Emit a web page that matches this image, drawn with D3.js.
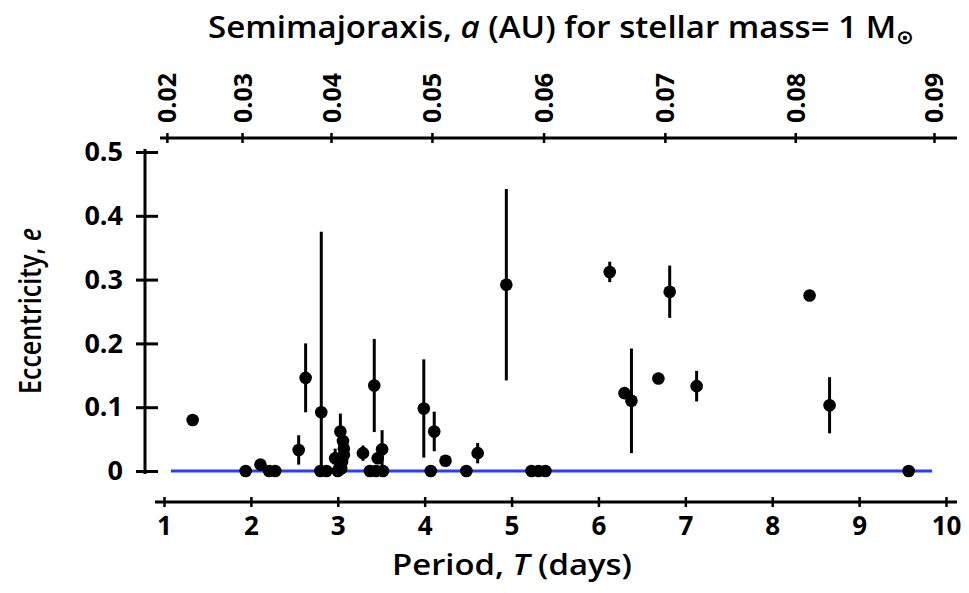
<!DOCTYPE html>
<html>
<head>
<meta charset="utf-8">
<script src="https://cdn.jsdelivr.net/npm/d3@7"></script>
<style>
  body { margin: 0; background: #fff; }
  svg text { font-family: "Open Sans", "DejaVu Sans", sans-serif; fill: #000; }
</style>
</head>
<body>
<div id="viz"></div>
<script>
// planets: period (days), eccentricity, error (+/-)
var periods = [1.33, 1.94, 2.11, 2.21, 2.28, 2.55, 2.63, 2.81, 2.80, 2.87,
    2.97, 3.00, 3.03, 3.06, 3.07, 3.07, 3.05, 3.04, 3.29, 3.42,
    3.37, 3.44, 3.52, 3.46, 3.51, 3.99, 4.11, 4.07, 4.24, 4.48,
    4.61, 4.94, 5.23, 5.31, 5.39, 6.13, 6.30, 6.38, 6.69, 6.82,
    7.13, 8.43, 8.66, 9.57];
var eccentricity = [0.080, 0, 0.010, 0, 0, 0.033, 0.146, 0.092, 0, 0,
    0.020, 0, 0.062, 0.047, 0.035, 0.025, 0.015, 0.004, 0.028, 0.134,
    0, 0, 0, 0.020, 0.034, 0.098, 0.062, 0, 0.016, 0,
    0.028, 0.292, 0, 0, 0, 0.312, 0.122, 0.110, 0.145, 0.281,
    0.133, 0.275, 0.103, 0];
var eccErr = [0.007, 0, 0, 0, 0, 0.023, 0.054, 0.283, 0, 0,
    0.015, 0, 0.028, 0.010, 0.010, 0, 0, 0, 0.012, 0.073,
    0, 0, 0, 0, 0.030, 0.077, 0.031, 0, 0.008, 0,
    0.016, 0.150, 0, 0, 0, 0.016, 0, 0.082, 0, 0.041,
    0.024, 0, 0.044, 0];

var periodTicks = [1, 2, 3, 4, 5, 6, 7, 8, 9, 10];
var eccTicks = [0, 0.1, 0.2, 0.3, 0.4, 0.5];
var axisTicks = [0.02, 0.03, 0.04, 0.05, 0.06, 0.07, 0.08, 0.09];

var width = 969,
    height = 593,
    bottomY = 502,
    topY = 138,
    leftX = 145;

var xScale = d3.scaleLinear().domain([1, 10]).range([164, 946]);
var yScale = d3.scaleLinear().domain([0, 0.5]).range([471, 152]);

// Kepler's third law, 1 solar mass: T(days) = 365.25 * a^1.5
function aToT(a) { return 365.25 * Math.pow(a, 1.5); }

var data = periods.map(function(p, i) {
    return { t: p, e: eccentricity[i], err: eccErr[i] };
});

var svg = d3.select('#viz').append('svg')
    .attr('width', width)
    .attr('height', height);

// bottom axis
var gBottom = svg.append('g')
    .attr('transform', 'translate(0,' + bottomY + ')')
    .call(d3.axisBottom(xScale).tickValues(periodTicks).tickSizeOuter(0));
gBottom.select('.domain').remove();
gBottom.append('line')
    .attr('x1', 155).attr('x2', 957)
    .attr('stroke', '#000').attr('stroke-width', 3);
gBottom.selectAll('.tick line').attr('y1', -5).attr('y2', 5).attr('stroke-width', 2.5);
gBottom.selectAll('.tick text')
    .attr('y', 33)
    .attr('dy', 0)
    .style('font-size', '26px')
    .style('font-weight', 700);

// top axis (semimajor axis)
var gTop = svg.append('g')
    .attr('transform', 'translate(0,' + topY + ')')
    .call(d3.axisTop(xScale)
        .tickValues(axisTicks.map(aToT))
        .tickFormat(function(d, i) { return axisTicks[i].toFixed(2); })
        .tickSizeOuter(0));
gTop.select('.domain').remove();
gTop.append('line')
    .attr('x1', 160).attr('x2', 957)
    .attr('stroke', '#000').attr('stroke-width', 3);
gTop.selectAll('.tick line').attr('y1', -5).attr('y2', 5).attr('stroke-width', 2.5);
gTop.selectAll('.tick text')
    .attr('transform', 'rotate(-90)')
    .attr('x', 15)
    .attr('y', 0)
    .attr('dy', '0.36em')
    .style('text-anchor', 'start')
    .style('font-size', '25px')
    .style('font-weight', 700);

// left axis
var gLeft = svg.append('g')
    .attr('transform', 'translate(' + leftX + ',0)')
    .call(d3.axisLeft(yScale).tickValues(eccTicks)
        .tickFormat(function(d) { return d === 0 ? '0' : d3.format('.1f')(d); })
        .tickSizeOuter(0));
gLeft.select('.domain').remove();
gLeft.append('line')
    .attr('y1', 149).attr('y2', 474)
    .attr('stroke', '#000').attr('stroke-width', 3);
gLeft.selectAll('.tick line').attr('x1', -9).attr('x2', 13).attr('stroke-width', 3);
gLeft.selectAll('.tick text')
    .attr('x', -22)
    .style('font-size', '27px')
    .style('font-weight', 700);

svg.selectAll('.tick text').style('font-family', '"Open Sans", "DejaVu Sans", sans-serif');

// zero line
svg.append('line')
    .attr('x1', xScale(1.08)).attr('x2', xScale(9.84))
    .attr('y1', yScale(0)).attr('y2', yScale(0))
    .attr('stroke', '#2a3cff').attr('stroke-width', 3);

// error bars
svg.selectAll('line.err').data(data.filter(function(d) { return d.err > 0; }))
    .enter().append('line')
    .attr('class', 'err')
    .attr('x1', function(d) { return xScale(d.t); })
    .attr('x2', function(d) { return xScale(d.t); })
    .attr('y1', function(d) { return yScale(Math.max(0, d.e - d.err)); })
    .attr('y2', function(d) { return yScale(d.e + d.err); })
    .attr('stroke', '#000')
    .attr('stroke-width', 3);

// points
svg.selectAll('circle').data(data)
    .enter().append('circle')
    .attr('cx', function(d) { return xScale(d.t); })
    .attr('cy', function(d) { return yScale(d.e); })
    .attr('r', 6.3)
    .style('fill', '#000');

// titles
var t1 = svg.append('text')
    .attr('x', 561).attr('y', 38)
    .attr('text-anchor', 'middle')
    .attr('textLength', 706)
    .attr('lengthAdjust', 'spacingAndGlyphs')
    .style('font-size', '31px')
    .style('font-weight', 600);
t1.append('tspan').text('Semimajoraxis, ');
t1.append('tspan').style('font-style', 'italic').text('a');
t1.append('tspan').text(' (AU)  for stellar mass= 1 M');
t1.append('tspan').attr('dy', 6).style('font-size', '20px').text('\u2299');

var t2 = svg.append('text')
    .attr('x', 512).attr('y', 575)
    .attr('text-anchor', 'middle')
    .attr('textLength', 240)
    .attr('lengthAdjust', 'spacingAndGlyphs')
    .style('font-size', '29px')
    .style('font-weight', 600);
t2.append('tspan').text('Period, ');
t2.append('tspan').style('font-style', 'italic').text('T');
t2.append('tspan').text('  (days)');

var t3 = svg.append('text')
    .attr('transform', 'translate(41,311) rotate(-90)')
    .attr('text-anchor', 'middle')
    .attr('textLength', 166)
    .attr('lengthAdjust', 'spacingAndGlyphs')
    .style('font-size', '31px')
    .style('font-weight', 600);
t3.append('tspan').text('Eccentricity, ');
t3.append('tspan').style('font-style', 'italic').text('e');
</script>
</body>
</html>
